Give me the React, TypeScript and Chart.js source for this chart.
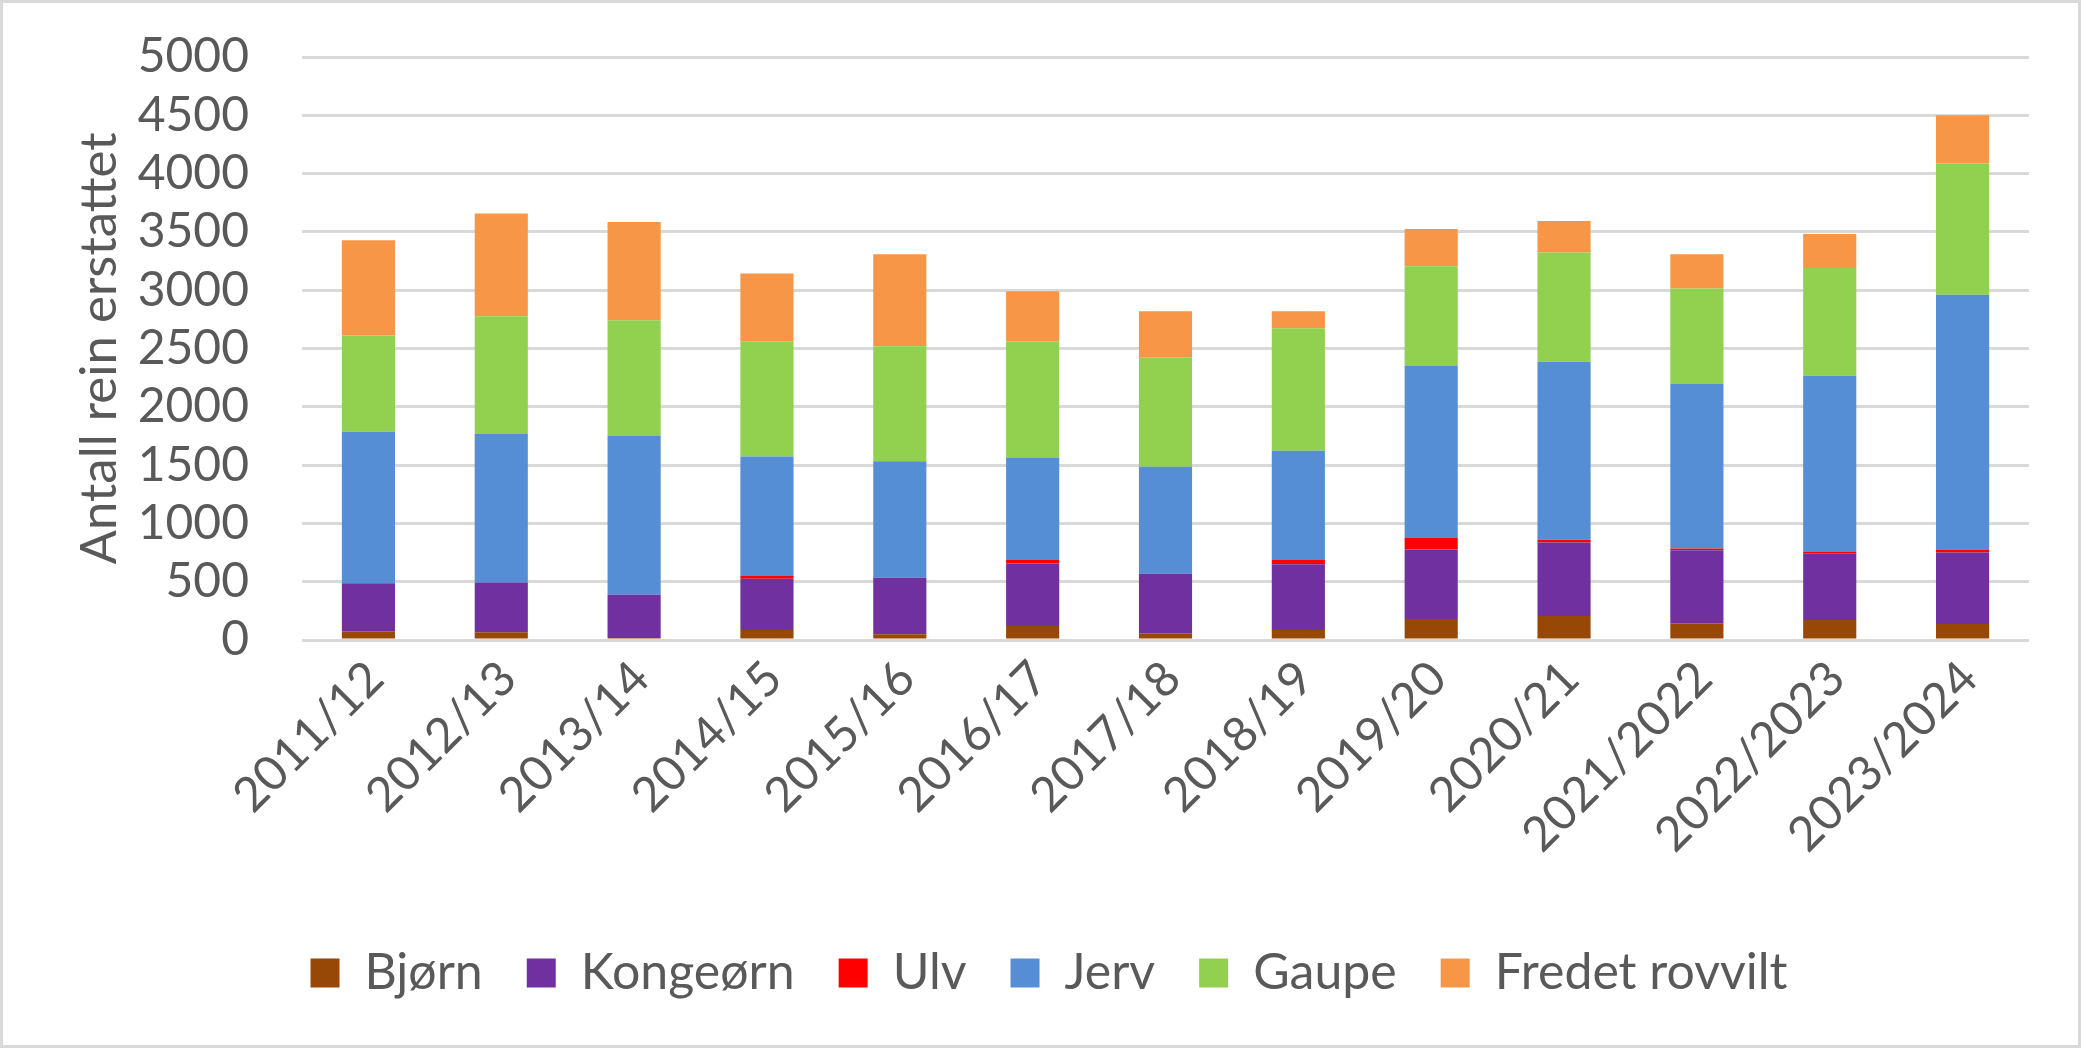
import { useEffect, useRef } from "react";
import { Chart, registerables, type Plugin } from "chart.js";

Chart.register(...registerables);

const SEASONS = [
  "2011/12",
  "2012/13",
  "2013/14",
  "2014/15",
  "2015/16",
  "2016/17",
  "2017/18",
  "2018/19",
  "2019/20",
  "2020/21",
  "2021/2022",
  "2022/2023",
  "2023/2024",
];

// antall rein erstattet per art (segmenter, nedenfra og opp)
const BJORN = [74, 66, 17, 86, 49, 120, 57, 86, 180, 206, 143, 171, 137];
const KONGEORN = [412, 428, 372, 440, 485, 537, 512, 563, 597, 631, 626, 572, 614];
const ULV = [0, 0, 0, 23, 0, 29, 0, 37, 103, 23, 15, 12, 20];
const JERV = [1299, 1272, 1365, 1025, 998, 880, 917, 938, 1475, 1526, 1411, 1512, 2190];
const GAUPE = [827, 1011, 988, 988, 988, 996, 938, 1049, 851, 938, 819, 923, 1126];
const FREDET = [816, 881, 843, 582, 789, 429, 395, 146, 318, 269, 295, 291, 413];

const TEXT = "#595959";
const GRID = "#D9D9D9";
const FONT = { family: "Lato", size: 48 };

const frame: Plugin<"bar"> = {
  id: "frame",
  beforeDraw(chart) {
    const { ctx, width, height } = chart;
    ctx.save();
    ctx.fillStyle = "#ffffff";
    ctx.fillRect(0, 0, width, height);
    ctx.strokeStyle = GRID;
    ctx.lineWidth = 3;
    ctx.strokeRect(1.5, 1.5, width - 3, height - 3);
    ctx.restore();
  },
};

export default function App() {
  const canvasRef = useRef<HTMLCanvasElement>(null);

  useEffect(() => {
    if (!canvasRef.current) return;
    const chart = new Chart(canvasRef.current, {
      type: "bar",
      data: {
        labels: SEASONS,
        datasets: [
          { label: "Bjørn", data: BJORN, backgroundColor: "#984806" },
          { label: "Kongeørn", data: KONGEORN, backgroundColor: "#7030A0" },
          { label: "Ulv", data: ULV, backgroundColor: "#FF0000" },
          { label: "Jerv", data: JERV, backgroundColor: "#558ED5" },
          { label: "Gaupe", data: GAUPE, backgroundColor: "#92D050" },
          { label: "Fredet rovvilt", data: FREDET, backgroundColor: "#F79646" },
        ],
      },
      options: {
        responsive: false,
        animation: false,
        devicePixelRatio: 1,
        datasets: { bar: { categoryPercentage: 0.8, barPercentage: 0.5 } },
        layout: { padding: { left: 69, right: 52, top: 57, bottom: 40 } },
        plugins: {
          tooltip: { enabled: false },
          legend: {
            position: "bottom",
            labels: {
              boxWidth: 29,
              boxHeight: 29,
              padding: 44,
              color: TEXT,
              font: { family: "Lato", size: 50 },
            },
          },
        },
        scales: {
          x: {
            stacked: true,
            grid: { display: false },
            border: { display: false },
            ticks: {
              color: TEXT,
              font: FONT,
              maxRotation: 45,
              minRotation: 45,
              autoSkip: false,
              padding: 2,
              labelOffset: 7,
            },
            afterFit: (s) => {
              s.height = 264;
            },
          },
          y: {
            stacked: true,
            min: 0,
            max: 5000,
            border: { display: false },
            grid: { color: GRID, lineWidth: 3, drawTicks: false },
            ticks: {
              stepSize: 500,
              autoSkip: false,
              padding: 53,
              color: TEXT,
              font: FONT,
              callback: (v) => String(v),
            },
            title: {
              display: true,
              text: "Antall rein erstattet",
              color: TEXT,
              font: { family: "Lato", size: 51 },
              padding: 0,
            },
            afterFit: (s) => {
              s.width = 233;
              s.paddingTop = 29;
              s.paddingBottom = 29;
            },
          },
        },
      },
      plugins: [frame],
    });
    return () => chart.destroy();
  }, []);

  return (
    <div style={{ position: "fixed", left: 0, top: 0, width: 2081, height: 1048 }}>
      <canvas ref={canvasRef} width={2081} height={1048} />
    </div>
  );
}
